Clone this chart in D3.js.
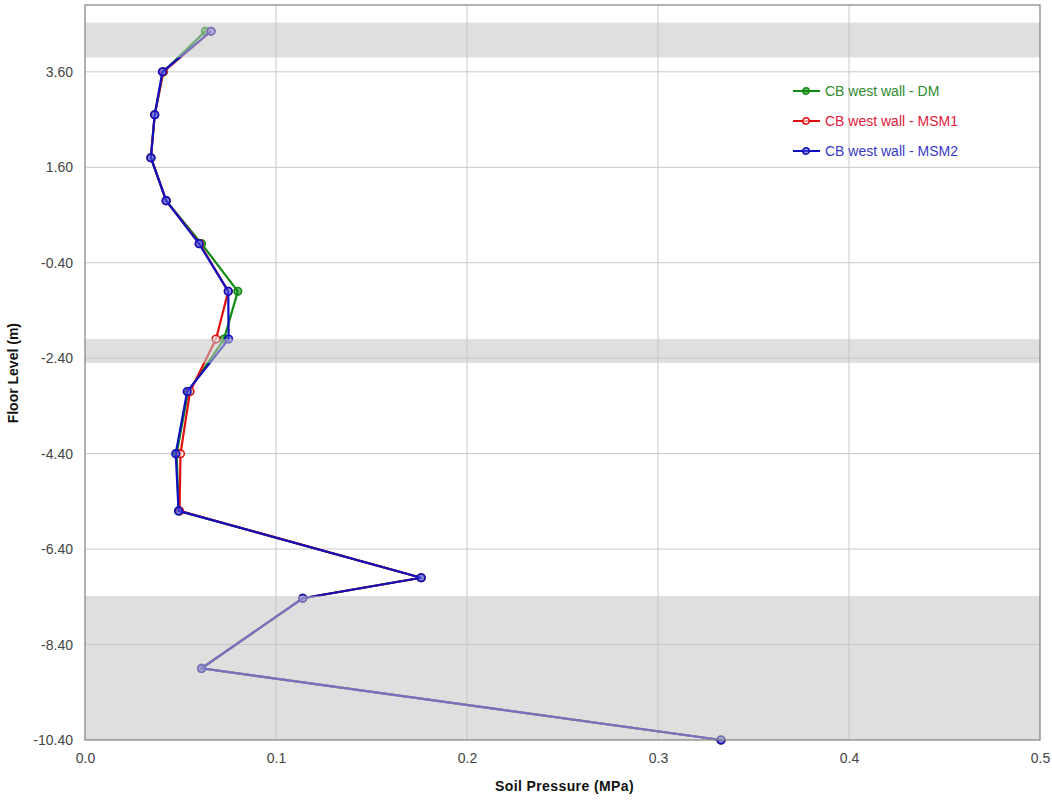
<!DOCTYPE html>
<html lang="en">
<head>
    <meta charset="UTF-8">
    <title>Soil Pressure - CB west wall</title>
    <script src="https://d3js.org/d3.v7.min.js"></script>
    <style>
        body { margin: 0; background: #fff; }
        svg { font-family: Arial, "Liberation Sans", sans-serif; }
        .tick text { fill: #444; font-size: 14px; }
        .axis-title { font-weight: bold; font-size: 14px; fill: #111; }
        .legend text { font-size: 14px; }
    </style>
</head>
<body>
    <svg width="1052" height="802"></svg>
    <script>
        // floor levels (m) of the readings
        const levels = [4.45, 3.6, 2.7, 1.8, 0.9, 0.0, -1.0, -2.0, -3.1, -4.4, -5.6, -7.0, -7.43, -8.9, -10.4];
        // soil pressure (MPa) per series
        const dm   = [0.063, 0.041, 0.0365, 0.0345, 0.0425, 0.061, 0.080, 0.0728, 0.054, 0.048, 0.049, 0.176, 0.114, 0.061, 0.333];
        const msm1 = [0.066, 0.041, 0.0365, 0.0345, 0.0425, 0.0600, 0.075, 0.0686, 0.055, 0.0500, 0.0495, 0.176, 0.114, 0.061, 0.333];
        const msm2 = [0.066, 0.0405, 0.0365, 0.0345, 0.0425, 0.0597, 0.075, 0.0752, 0.0535, 0.0475, 0.049, 0.176, 0.114, 0.061, 0.333];
        const seriesNames = ["CB west wall - DM", "CB west wall - MSM1", "CB west wall - MSM2"];
        const xTicks = [0, 0.1, 0.2, 0.3, 0.4, 0.5];
        const yTicks = [3.6, 1.6, -0.4, -2.4, -4.4, -6.4, -8.4, -10.4];
        // shaded level bands (m)
        const bands = [[3.9, 4.63], [-2.5, -2.0], [-10.4, -7.38]];

        const colors = ["#118a11", "#e01010", "#1010c0"];
        const textColors = ["#2e8b2e", "#e0203a", "#3838c8"];
        const fills = ["#118a11", "#ffffff", "#5050e0"];

        const fmt = d3.formatLocale({decimal: ".", thousands: ",", grouping: [3], currency: ["", ""], minus: "-"});

        const margin = {top: 5, right: 12, bottom: 62, left: 85},
              width = 1052 - margin.left - margin.right,
              height = 802 - margin.top - margin.bottom;

        const svg = d3.select("svg")
            .append("g")
            .attr("transform", `translate(${margin.left}, ${margin.top})`);

        const x = d3.scaleLinear().domain([0, 0.5]).range([0, width]);
        const y = d3.scaleLinear().domain([-10.4, 5.0]).range([height, 0]);

        // grid
        svg.append("g")
            .selectAll("line.vg")
            .data(xTicks.slice(1, -1))
            .enter().append("line")
            .attr("x1", d => x(d)).attr("x2", d => x(d))
            .attr("y1", 0).attr("y2", height)
            .attr("stroke", "#c8c8c8").attr("stroke-width", 1);

        svg.append("g")
            .selectAll("line.hg")
            .data(yTicks.slice(0, -1))
            .enter().append("line")
            .attr("x1", 0).attr("x2", width)
            .attr("y1", d => y(d)).attr("y2", d => y(d))
            .attr("stroke", "#c8c8c8").attr("stroke-width", 1);

        // series
        const series = [dm, msm1, msm2].map((vals, i) => ({
            name: seriesNames[i],
            color: colors[i],
            fill: fills[i],
            points: vals.map((v, j) => ({x: v, y: levels[j]}))
        }));

        const line = d3.line().x(d => x(d.x)).y(d => y(d.y));

        series.forEach(s => {
            svg.append("path")
                .datum(s.points)
                .attr("fill", "none")
                .attr("stroke", s.color)
                .attr("stroke-width", 2.2)
                .attr("d", line);
            svg.append("g")
                .selectAll("circle")
                .data(s.points)
                .enter().append("circle")
                .attr("cx", d => x(d.x))
                .attr("cy", d => y(d.y))
                .attr("r", 3.8)
                .attr("fill", s.fill)
                .attr("fill-opacity", 0.6)
                .attr("stroke", s.color)
                .attr("stroke-width", 1.6);
        });

        // translucent bands on top
        svg.append("g")
            .selectAll("rect")
            .data(bands)
            .enter().append("rect")
            .attr("x", 0)
            .attr("width", width)
            .attr("y", d => y(d[1]))
            .attr("height", d => y(d[0]) - y(d[1]))
            .attr("fill", "#c4c4c4")
            .attr("fill-opacity", 0.55);

        // frame
        svg.append("rect")
            .attr("width", width).attr("height", height)
            .attr("fill", "none")
            .attr("stroke", "#808080").attr("stroke-width", 1.2);

        // axes
        const xAxis = svg.append("g")
            .attr("transform", `translate(0, ${height})`)
            .call(d3.axisBottom(x).tickValues(xTicks).tickFormat(fmt.format(".1f")).tickSize(0).tickPadding(13));
        xAxis.select(".domain").remove();

        const yAxis = svg.append("g")
            .call(d3.axisLeft(y).tickValues(yTicks).tickFormat(fmt.format(".2f")).tickSize(0).tickPadding(12));
        yAxis.select(".domain").remove();

        svg.append("text")
            .attr("class", "axis-title")
            .attr("x", width / 2 + 2)
            .attr("y", height + 51)
            .attr("text-anchor", "middle")
            .attr("letter-spacing", 0.4)
            .text("Soil Pressure (MPa)");

        svg.append("text")
            .attr("class", "axis-title")
            .attr("transform", `translate(${-67}, ${y(-2.4) + 15}) rotate(-90)`)
            .attr("text-anchor", "middle")
            .text("Floor Level (m)");

        // legend
        const legend = svg.append("g")
            .attr("class", "legend")
            .attr("transform", `translate(${793 - margin.left}, ${91 - margin.top})`);

        series.forEach((s, i) => {
            const g = legend.append("g").attr("transform", `translate(0, ${i * 30})`);
            g.append("line")
                .attr("x1", 0).attr("x2", 27)
                .attr("stroke", s.color).attr("stroke-width", 2);
            g.append("circle")
                .attr("cx", 13).attr("r", 3.2)
                .attr("fill", s.fill).attr("fill-opacity", 0.6)
                .attr("stroke", s.color).attr("stroke-width", 1.5);
            g.append("text")
                .attr("x", 32).attr("dy", "0.35em")
                .attr("fill", textColors[i])
                .text(s.name);
        });
    </script>
</body>
</html>
